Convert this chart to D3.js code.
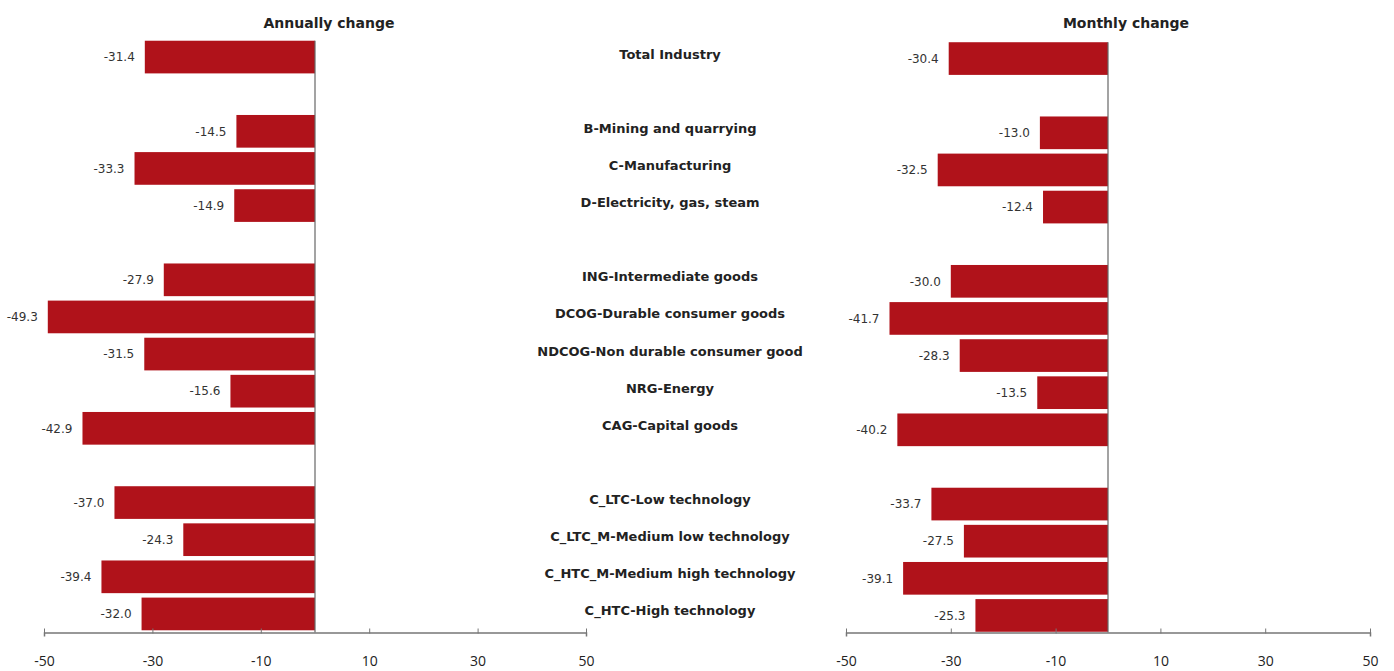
<!DOCTYPE html>
<html>
<head>
<meta charset="utf-8">
<script src="https://cdn.jsdelivr.net/npm/d3@7"></script>
<style>
  body { margin: 0; background: #fff; }
  text { font-family: "DejaVu Sans", Verdana, sans-serif; }
</style>
</head>
<body>
<script>
// categories, "" marks an empty gap row
let categories = ["Total Industry", "", "B-Mining and quarrying", "C-Manufacturing",
    "D-Electricity, gas, steam", "", "ING-Intermediate goods", "DCOG-Durable consumer goods",
    "NDCOG-Non durable consumer good", "NRG-Energy", "CAG-Capital goods", "",
    "C_LTC-Low technology", "C_LTC_M-Medium low technology", "C_HTC_M-Medium high technology",
    "C_HTC-High technology"];

let annual = [-31.4, null, -14.5, -33.3, -14.9, null, -27.9, -49.3, -31.5, -15.6, -42.9, null,
    -37.0, -24.3, -39.4, -32.0];
let monthly = [-30.4, null, -13.0, -32.5, -12.4, null, -30.0, -41.7, -28.3, -13.5, -40.2, null,
    -33.7, -27.5, -39.1, -25.3];

let tickVals = [-50, -30, -10, 10, 30, 50];
let titles = ["Annually change", "Monthly change"];

let W = 1394, H = 671;
let barColor = "#b0121a";
let axisY = 632.5;

let svg = d3.select("body").append("svg")
    .attr("width", W)
    .attr("height", H);

// rows
let y = d3.scaleBand()
    .domain(d3.range(categories.length))
    .range([38.5, axisY])
    .paddingInner(0.12)
    .paddingOuter(0.06);

function drawPanel(values, x0, x1, title, titleShift, dy) {
    let x = d3.scaleLinear().domain([-50, 50]).range([x0, x1]);
    let g = svg.append("g").attr("transform", "translate(0," + dy + ")");

    let rows = values.map((v, i) => ({v: v, i: i})).filter(d => d.v !== null);

    g.selectAll("rect.bar")
        .data(rows)
        .enter().append("rect")
        .attr("class", "bar")
        .attr("x", d => x(d.v))
        .attr("y", d => y(d.i))
        .attr("width", d => x(0) - x(d.v))
        .attr("height", y.bandwidth())
        .attr("fill", barColor);

    // value labels
    g.selectAll("text.val")
        .data(rows)
        .enter().append("text")
        .attr("class", "val")
        .attr("x", d => x(d.v) - 10)
        .attr("y", d => y(d.i) + y.bandwidth() / 2)
        .attr("dy", "0.35em")
        .attr("text-anchor", "end")
        .style("font-size", "12px")
        .style("fill", "#333")
        .text(d => d.v.toFixed(1));

    // zero line
    g.append("line")
        .attr("x1", x(0)).attr("x2", x(0))
        .attr("y1", y(0)).attr("y2", axisY - dy)
        .attr("stroke", "#666")
        .attr("stroke-width", 1.2);

    // x axis
    let axis = g.append("g")
        .attr("transform", "translate(0," + (axisY - dy) + ")")
        .call(d3.axisBottom(x).tickValues(tickVals).tickFormat(d => String(d))
            .tickSizeOuter(0).tickSize(4).tickPadding(20));
    axis.select(".domain").attr("stroke", "#777").attr("stroke-width", 1.5);
    axis.selectAll(".tick line").attr("stroke", "#777").attr("y1", -4).attr("y2", 1);
    axis.selectAll(".tick text")
        .style("font-family", "'Open Sans', sans-serif")
        .style("font-size", "14px")
        .style("fill", "#222");

    g.append("text")
        .attr("x", x(0) + titleShift)
        .attr("y", 28 - dy)
        .attr("text-anchor", "middle")
        .style("font-size", "14px")
        .style("font-weight", "bold")
        .style("fill", "#222")
        .text(title);
}

drawPanel(annual, 44, 586, titles[0], 14, 0);
drawPanel(monthly, 846, 1370, titles[1], 18, 1.5);

// category labels in the middle
svg.selectAll("text.cat")
    .data(categories.map((c, i) => ({c: c, i: i})).filter(d => d.c !== ""))
    .enter().append("text")
    .attr("class", "cat")
    .attr("x", 670)
    .attr("y", d => y(d.i) + y.bandwidth() / 2 - 3)
    .attr("dy", "0.35em")
    .attr("text-anchor", "middle")
    .style("font-size", "13px")
    .style("font-weight", "bold")
    .style("fill", "#222")
    .text(d => d.c);
</script>
</body>
</html>
